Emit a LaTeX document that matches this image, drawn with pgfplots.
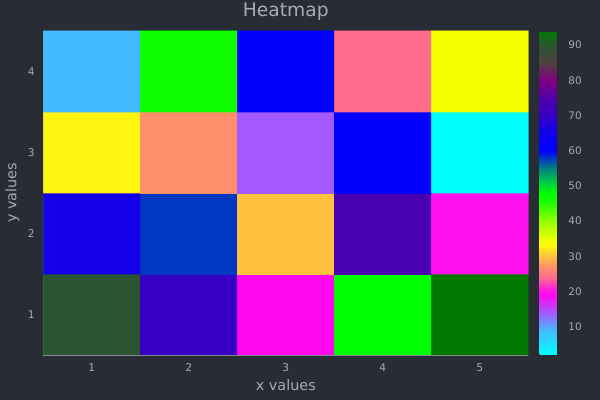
\documentclass[border=0pt]{standalone}
\usepackage{fontspec}
\setmainfont{DejaVu Sans}
\usepackage{pgfplots}
\pgfplotsset{compat=1.18}
\definecolor{bg}{RGB}{40,44,52}
\definecolor{txt}{RGB}{165,172,180}
\definecolor{spine}{RGB}{130,136,142}
\begin{document}
\begin{tikzpicture}[x=1pt,y=1pt]
\fill[bg] (0,0) rectangle (450,300);
\begin{axis}[
  at={(32.5pt,33.75pt)}, anchor=south west,
  scale only axis, width=363.75pt, height=243pt,
  xmin=0.5, xmax=5.5, ymin=0.5, ymax=4.5,
  xtick={1,2,3,4,5}, ytick={1,2,3,4},
  axis x line=bottom, axis y line=left,
  axis line style={-, draw=spine, line width=0.8pt},
  tick align=inside, major tick length=2.5pt,
  tick style={draw=spine!60, line width=0.4pt},
  /pgf/number format/assume math mode=true,
  ticklabel style={font=\fontsize{8}{9}\selectfont, text=txt},
  xticklabel style={anchor=center, yshift=-9.5pt},
  yticklabel style={anchor=center, xshift=-9pt},
  every axis title shift=0pt,
  title={Heatmap},
  title style={at={(0.5,1)}, anchor=center, yshift=14.25pt, font=\fontsize{14}{16}\selectfont, text=txt},
  xlabel={x values},
  xlabel style={at={(0.5,0)}, anchor=center, yshift=-22.5pt, font=\fontsize{10.8}{12}\selectfont, text=txt},
  ylabel={y values},
  ylabel style={at={(0,0.5)}, anchor=center, yshift=23.25pt, font=\fontsize{10.8}{12}\selectfont, text=txt},
  colormap={heat}{
    rgb255(2pt)=(0,255,255);
    rgb255(9pt)=(68,187,255);
    rgb255(14pt)=(164,90,255);
    rgb255(19pt)=(255,8,240);
    rgb255(20pt)=(255,16,236);
    rgb255(24pt)=(255,107,140);
    rgb255(27pt)=(255,143,108);
    rgb255(30pt)=(255,192,64);
    rgb255(33pt)=(255,245,16);
    rgb255(34pt)=(248,255,0);
    rgb255(40pt)=(150,255,0);
    rgb255(46pt)=(16,255,0);
    rgb255(48pt)=(0,255,0);
    rgb255(51pt)=(0,208,64);
    rgb255(55pt)=(0,128,128);
    rgb255(58pt)=(0,56,196);
    rgb255(60pt)=(0,0,255);
    rgb255(61pt)=(0,0,255);
    rgb255(66pt)=(20,0,232);
    rgb255(70pt)=(56,0,196);
    rgb255(74pt)=(72,0,176);
    rgb255(80pt)=(128,0,128);
    rgb255(85pt)=(80,64,64);
    rgb255(90pt)=(43,85,48);
    rgb255(94pt)=(0,120,0)
  },
  point meta min=2, point meta max=94,
  colorbar,
  colorbar style={
    at={(parent axis.north east)}, anchor=north west, xshift=0pt,
    scale only axis, width=13.5pt, height=243pt,
    ytick={10,20,30,40,50,60,70,80,90},
    axis x line=none, axis y line=right,
    axis line style={-, draw=black!85, line width=0.8pt},
    tick align=outside, major tick length=3.5pt,
    tick style={draw=black!85, line width=0.6pt},
    /pgf/number format/assume math mode=true,
    yticklabel style={font=\fontsize{7.8}{9}\selectfont, text=txt, anchor=west, xshift=1pt},
  },
]
\addplot[matrix plot*, mesh/cols=5, point meta=explicit, draw=none] table[meta=c] {
x y c
1 1 90
2 1 70
3 1 19
4 1 48
5 1 94
1 2 66
2 2 58
3 2 30
4 2 74
5 2 20
1 3 33
2 3 27
3 3 14
4 3 61
5 3 2
1 4 9
2 4 46
3 4 60
4 4 24
5 4 34
};
\end{axis}
\pgfresetboundingbox
\useasboundingbox (0,0) rectangle (450,300);
\end{tikzpicture}
\end{document}
